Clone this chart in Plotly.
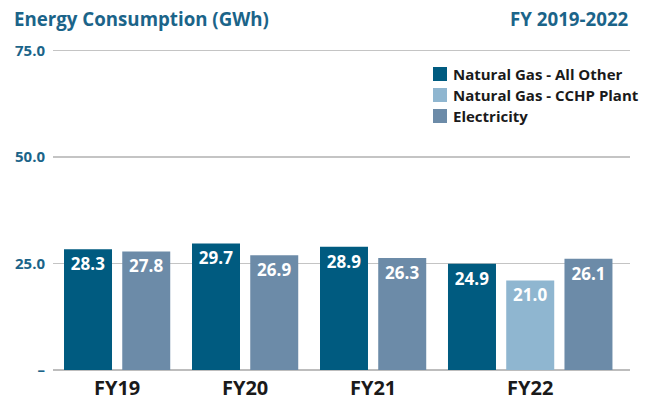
import plotly.graph_objects as go

categories = ["FY19", "FY20", "FY21", "FY22"]
gas_other = [28.3, 29.7, 28.9, 24.9]
gas_cchp = [None, None, None, 21.0]
electricity = [27.8, 26.9, 26.3, 26.1]
y_tick_vals = [0, 25, 50, 75]
y_tick_text = ["–", "25.0", "50.0", "75.0"]

series = [
    ("Natural Gas - All Other", gas_other, "#005B80"),
    ("Natural Gas - CCHP Plant", gas_cchp, "#8FB6D0"),
    ("Electricity", electricity, "#6C8BA8"),
]

BAR_W = 0.375
PITCH = 0.455

# layout geometry (pixels)
W, H = 649, 400
ML, MR, MT, MB = 53, 19, 46, 30
PW, PH = W - ML - MR, H - MT - MB


def px_x(px):
    return (px - ML) / PW


def px_y(py):
    return (H - MB - py) / PH


positions = {name: [None] * len(categories) for name, _, _ in series}
centers = []
for i in range(len(categories)):
    present = [name for name, vals, _ in series if vals[i] is not None]
    for j, name in enumerate(present):
        positions[name][i] = i + BAR_W / 2 + j * PITCH
    n = len(present)
    centers.append(i + (BAR_W + (n - 1) * PITCH) / 2)

fig = go.Figure()
for name, vals, color in series:
    xs = [positions[name][i] for i in range(len(categories)) if vals[i] is not None]
    ys = [v for v in vals if v is not None]
    fig.add_trace(go.Bar(
        x=xs, y=ys, name=name, width=BAR_W,
        marker=dict(color=color, line=dict(width=0)),
        text=[f"{v:.1f}" for v in ys],
        textposition="inside", insidetextanchor="end",
        textangle=0, constraintext="none",
        textfont=dict(color="white", size=17, family="Open Sans", weight="bold"),
        showlegend=False, hoverinfo="skip",
    ))

# manual legend (square + label), matching reference spacing
legend_y = [74, 95, 116]
for (name, _, color), cy in zip(series, legend_y):
    fig.add_shape(
        type="rect", xref="paper", yref="paper",
        x0=px_x(433), x1=px_x(447), y0=px_y(cy + 7), y1=px_y(cy - 7),
        fillcolor=color, line=dict(width=0),
    )
    fig.add_annotation(
        text=name, xref="paper", yref="paper",
        x=px_x(451), y=px_y(cy), xanchor="left", yanchor="middle",
        showarrow=False,
        font=dict(family="Open Sans", size=15, color="#1a1a1a", weight="bold"),
    )

fig.update_layout(
    width=W, height=H,
    margin=dict(l=ML, r=MR, t=MT, b=MB),
    paper_bgcolor="white", plot_bgcolor="white",
    barmode="overlay",
    showlegend=False,
    font=dict(family="Open Sans"),
)
fig.update_xaxes(
    range=[-0.086, 4.422], tickvals=centers, ticktext=categories,
    showgrid=False, zeroline=False, showline=False, ticks="",
    tickfont=dict(family="Open Sans", size=20, color="#1a1a1a", weight="bold"),
    ticklabelstandoff=4, automargin=False,
)
fig.update_yaxes(
    range=[0, 76], tickvals=y_tick_vals, ticktext=y_tick_text,
    showgrid=True, gridcolor="#c4c4c4", gridwidth=1.5,
    zeroline=True, zerolinecolor="#bdbdbd", zerolinewidth=2.5,
    showline=False, ticks="",
    tickfont=dict(family="Open Sans", size=15, color="#1B6489", weight="bold"),
    ticklabelstandoff=7, automargin=False,
)
fig.add_annotation(
    text="Energy Consumption (GWh)", xref="paper", yref="paper",
    x=px_x(12), y=px_y(18), xanchor="left", yanchor="middle",
    showarrow=False, font=dict(family="Open Sans", size=18.7, color="#1B6489", weight="bold"),
)
fig.add_annotation(
    text="FY 2019-2022", xref="paper", yref="paper",
    x=px_x(631), y=px_y(18), xanchor="right", yanchor="middle",
    showarrow=False, font=dict(family="Open Sans", size=18.7, color="#1B6489", weight="bold"),
)

fig.write_html(
    "out.html",
    config={"displayModeBar": False, "staticPlot": True},
    post_script="document.body.style.margin='0';document.body.style.overflow='hidden';",
)
